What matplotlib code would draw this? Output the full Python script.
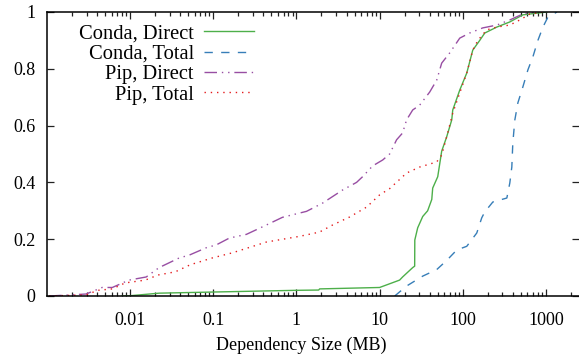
import matplotlib
matplotlib.use("Agg")
import matplotlib.pyplot as plt
from matplotlib.ticker import FormatStrFormatter, LogLocator, NullFormatter, FixedLocator

plt.rcParams['font.family'] = ['Liberation Serif', 'DejaVu Serif']
plt.rcParams['mathtext.fontset'] = 'stix'

# CDF of dependency sizes (MB)
conda_direct_x = [0.008, 0.01, 0.0224, 0.1, 1, 1.85, 1.9, 10, 17.4, 18.9, 25, 26.4, 26.5,
                  28.7, 33, 37.8, 42.4, 43.5, 50, 55.8, 64, 73.7, 75.8, 92, 111.7, 132,
                  160, 184, 257, 368, 528, 1028]
conda_direct_y = [0, 0.001, 0.01, 0.014, 0.02, 0.021, 0.025, 0.03, 0.056, 0.067, 0.1, 0.105,
                  0.197, 0.24, 0.28, 0.30, 0.34, 0.38, 0.42, 0.51, 0.56, 0.62, 0.655, 0.725,
                  0.785, 0.866, 0.90, 0.926, 0.947, 0.965, 0.99, 1.0]

conda_total_x = [15.2, 21.1, 33, 48.6, 64, 84.7, 111.7, 147.5, 169, 184, 230, 339, 368, 389,
                 400, 423, 460, 528, 607, 697, 801, 921, 1057, 1358]
conda_total_y = [0, 0.035, 0.07, 0.093, 0.125, 0.162, 0.175, 0.222, 0.275, 0.296, 0.331,
                 0.345, 0.398, 0.454, 0.539, 0.62, 0.68, 0.736, 0.796, 0.842, 0.90, 0.947,
                 0.982, 1.0]

pip_direct_x = [0.00106, 0.00195, 0.00295, 0.0046, 0.0061, 0.0097, 0.0156, 0.0223, 0.0389,
                0.0514, 0.0824, 0.1087, 0.156, 0.25, 0.435, 0.678, 1.087, 1.32, 2.06, 3.58,
                5.28, 6.24, 8.24, 10.9, 13.2, 16.0, 18.9, 21.1, 25, 30.3, 40, 48.6, 55.8,
                69.7, 92, 121, 174, 257, 368, 528, 779]
pip_direct_y = [0, 0.004, 0.007, 0.03, 0.03, 0.056, 0.067, 0.1, 0.134, 0.144, 0.17, 0.18,
                0.204, 0.217, 0.25, 0.277, 0.292, 0.298, 0.327, 0.373, 0.40, 0.42, 0.458,
                0.479, 0.50, 0.55, 0.574, 0.62, 0.655, 0.672, 0.718, 0.76, 0.82, 0.856,
                0.908, 0.926, 0.944, 0.954, 0.972, 0.993, 1.0]

pip_total_x = [0.00106, 0.00295, 0.0041, 0.0061, 0.0087, 0.0152, 0.0217, 0.0348, 0.0528,
               0.0973, 0.1694, 0.435, 1.087, 1.89, 2.72, 4.35, 6.97, 10, 13.2, 21.1, 30.3,
               48.6, 55.8, 65.9, 75.8, 92, 111.7, 132, 152, 194, 257, 368, 486, 642, 921]
pip_total_y = [0, 0.004, 0.02, 0.025, 0.046, 0.056, 0.074, 0.085, 0.11, 0.134, 0.152, 0.19,
               0.21, 0.225, 0.25, 0.278, 0.313, 0.356, 0.378, 0.433, 0.454, 0.472, 0.496,
               0.574, 0.644, 0.715, 0.785, 0.866, 0.90, 0.937, 0.947, 0.954, 0.972, 0.993,
               1.0]

x_ticks = [0.01, 0.1, 1, 10, 100, 1000]
x_tick_labels = ['0.01', '0.1', '1', '10', '100', '1000']
y_ticks = [0, 0.2, 0.4, 0.6, 0.8, 1]

fig = plt.figure(figsize=(5.79, 3.62), dpi=100)
ax = fig.add_axes([47 / 579, 66 / 362, 532 / 579, 284 / 362])

ax.plot(conda_direct_x, conda_direct_y, color='#4daf4a', lw=1.0, label='Conda, Direct')
ax.plot(conda_total_x, conda_total_y, color='#377eb8', lw=1.0, ls=(0, (6, 6)),
        label='Conda, Total')
ax.plot(pip_direct_x, pip_direct_y, color='#984ea3', lw=1.0,
        ls=(0, (9, 3.5, 1, 3.5, 1, 3.5)), label='Pip, Direct')
ax.plot(pip_total_x, pip_total_y, color='#e41a1c', lw=1.0, ls=(0, (1, 3.5)),
        label='Pip, Total')

ax.set_xscale('log')
ax.set_xlim(0.001, 2500)
ax.set_ylim(0, 1)
ax.xaxis.set_major_locator(FixedLocator(x_ticks))
ax.set_xticklabels(x_tick_labels)
ax.xaxis.set_minor_locator(LogLocator(base=10, subs=range(2, 10), numticks=20))
ax.xaxis.set_minor_formatter(NullFormatter())
ax.set_yticks(y_ticks)
ax.yaxis.set_major_formatter(FormatStrFormatter('%g'))

ax.tick_params(which='both', direction='in', top=True, right=True, labelsize=13,
               width=0.9, color='#222222')
ax.tick_params(which='major', length=5)
ax.tick_params(axis='x', which='major', pad=11.5)
ax.tick_params(axis='y', which='major', pad=8.5)
ax.tick_params(which='minor', length=3)
ax.spines['right'].set_visible(False)
for s in ['left', 'bottom', 'top']:
    ax.spines[s].set_linewidth(1.1)

ax.set_xlabel('Dependency Size (MB)', fontsize=13)
ax.xaxis.set_label_coords((301 - 47) / 532, -0.145)

ax.legend(loc='upper right', bbox_to_anchor=(0.389, 0.958), frameon=False,
          markerfirst=False, fontsize=14.8, handlelength=2.43, handletextpad=0.49,
          labelspacing=0.05, borderpad=0, borderaxespad=0)

fig.savefig('out.png', dpi=100)
